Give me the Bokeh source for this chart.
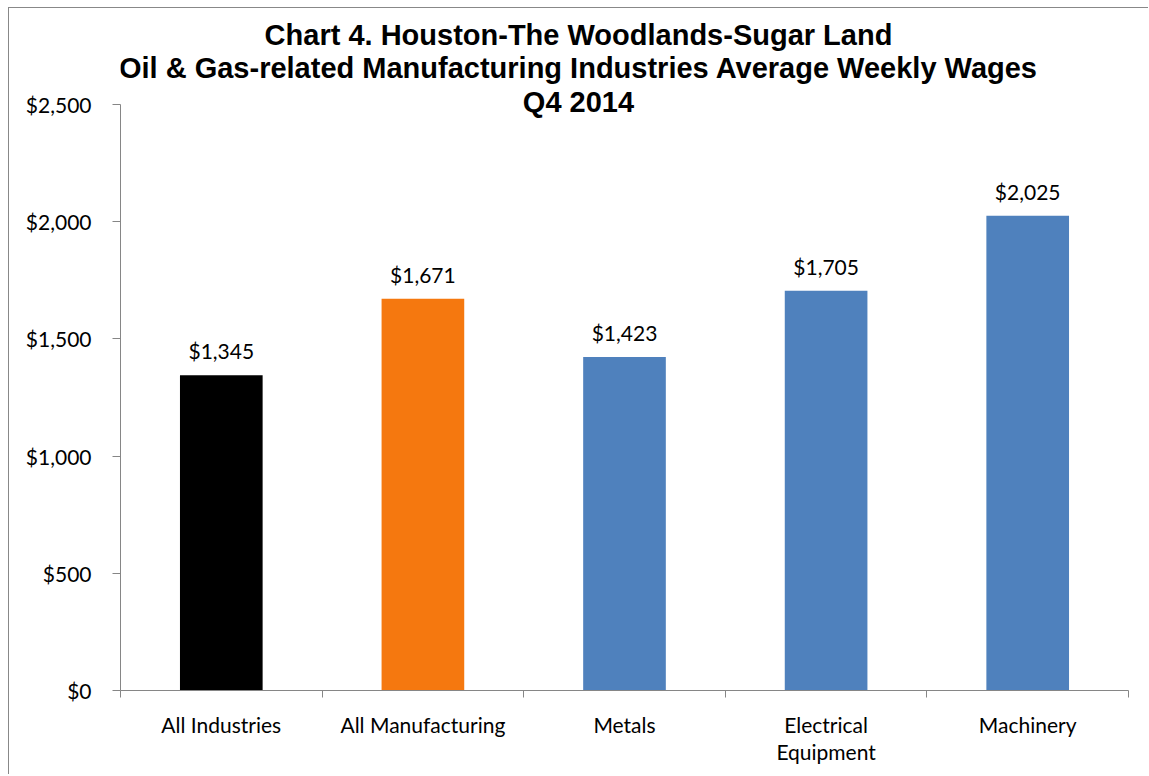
from bokeh.plotting import figure
from bokeh.models import Range1d, FixedTicker, NumeralTickFormatter, Label, LabelSet, ColumnDataSource
from bokeh.core.properties import value
from bokeh.embed import file_html
from bokeh.resources import INLINE

categories = ["All Industries", "All Manufacturing", "Metals", "Electrical\nEquipment", "Machinery"]
wages = [1345, 1671, 1423, 1705, 2025]
bar_colors = ["#000000", "#F5780F", "#4F81BD", "#4F81BD", "#4F81BD"]
y_ticks = [0, 500, 1000, 1500, 2000, 2500]
title_lines = [
    "Chart 4. Houston-The Woodlands-Sugar Land",
    "Oil & Gas-related Manufacturing Industries Average Weekly Wages",
    "Q4 2014",
]

AX_FONT = "Lato"
AX_SIZE = "21px"
AXIS_COLOR = "#868686"

# layout (pixels)
W, H = 1140, 767
LEFT, RIGHT, BOTTOM = 111, 21, 85
TOP_TICK_PX = 96          # canvas y of the top tick
frame_h = H - BOTTOM
y_end = y_ticks[-1] * frame_h / (frame_h - TOP_TICK_PX)

n = len(categories)
xs = list(range(1, n + 1))
src = ColumnDataSource(dict(x=xs, y=wages, color=bar_colors,
                            label=[f"${v:,}" for v in wages]))

p = figure(width=W, height=H, output_backend="svg", toolbar_location=None, title=None,
           x_range=Range1d(0.5, n + 0.5), y_range=Range1d(0, y_end),
           min_border_left=LEFT, min_border_right=RIGHT, min_border_top=0,
           min_border_bottom=BOTTOM)
p.styles = {"border-left": "1px solid #888888", "border-top": "1px solid #888888",
            "margin-left": "8px", "margin-top": "7px"}
p.background_fill_color = "white"
p.border_fill_color = "white"
p.outline_line_color = None
p.xgrid.visible = False
p.ygrid.visible = False

p.vbar(x="x", top="y", width=0.41, bottom=0, fill_color="color", line_color=None, source=src)

labels = LabelSet(x="x", y="y", text="label", source=src, text_align="center",
                  text_baseline="alphabetic", y_offset=16, text_font=value(AX_FONT),
                  text_font_size=value(AX_SIZE), text_color="#000000")
p.add_layout(labels)

# y axis
ya = p.yaxis[0]
ya.ticker = FixedTicker(ticks=y_ticks)
ya.bounds = (y_ticks[0], y_ticks[-1])
ya.formatter = NumeralTickFormatter(format="$0,0")
ya.axis_line_color = AXIS_COLOR
ya.major_tick_line_color = AXIS_COLOR
ya.major_tick_out = 8
ya.major_tick_in = 0
ya.minor_tick_line_color = None
ya.major_label_standoff = 21
ya.major_label_text_font = AX_FONT
ya.major_label_text_font_size = AX_SIZE
ya.major_label_text_color = "#000000"

# x axis
xa = p.xaxis[0]
xa.ticker = FixedTicker(ticks=xs, minor_ticks=[i + 0.5 for i in range(0, n + 1)])
xa.major_label_overrides = {i: c for i, c in zip(xs, categories)}
xa.axis_line_color = AXIS_COLOR
xa.major_tick_line_color = None
xa.major_tick_out = 0
xa.major_tick_in = 0
xa.minor_tick_line_color = AXIS_COLOR
xa.minor_tick_out = 7
xa.minor_tick_in = 0
xa.major_label_standoff = 14
xa.major_label_text_font = AX_FONT
xa.major_label_text_font_size = AX_SIZE
xa.major_label_text_color = "#000000"
xa.major_label_text_line_height = 1.1

title_y = [656, 623, 589]
for t, yy in zip(title_lines, title_y):
    p.add_layout(Label(x=458, y=yy, x_units="screen", y_units="screen", text=t,
                       text_align="center", text_baseline="alphabetic",
                       text_font="Liberation Sans", text_font_style="bold",
                       text_font_size="29px", text_color="#000000"))

open("out.html", "w").write(file_html(p, INLINE))
